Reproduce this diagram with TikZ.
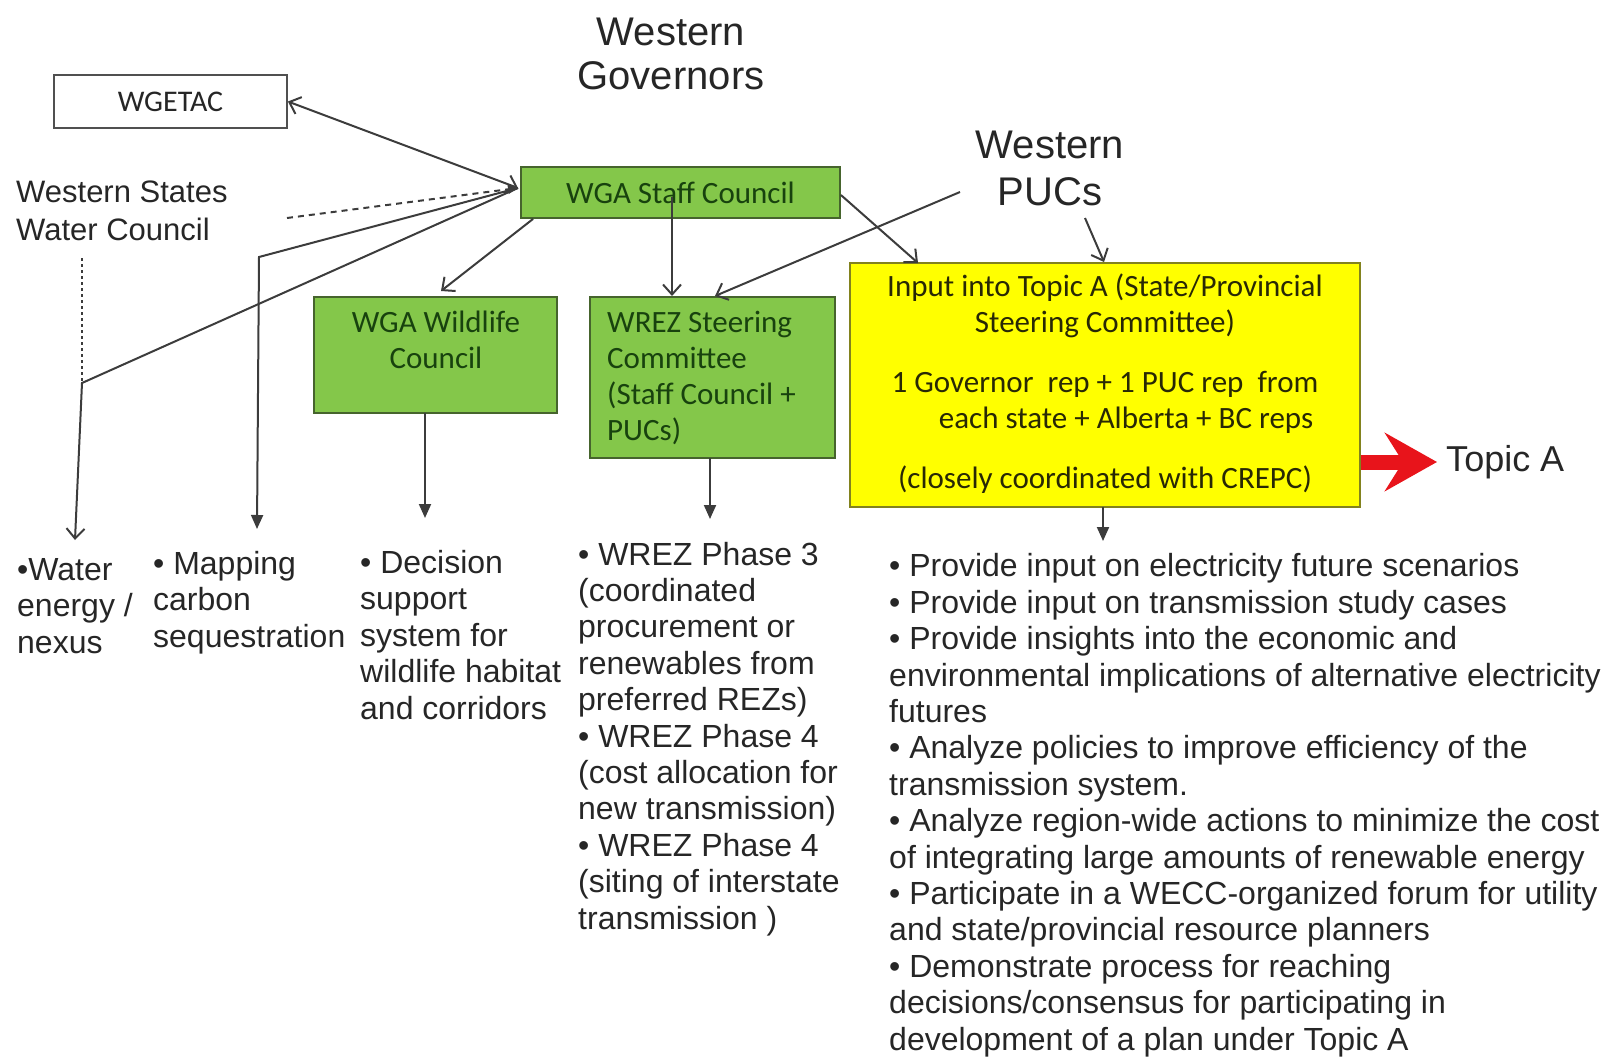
\documentclass[tikz,border=0pt]{standalone}
\usepackage{fontspec}
\setmainfont{Liberation Sans}
\newfontfamily\boxfont{Carlito}
\usetikzlibrary{arrows.meta}
\definecolor{gfill}{RGB}{132,199,74}
\definecolor{gdraw}{RGB}{70,100,45}
\definecolor{gtext}{RGB}{24,66,14}
\definecolor{ytext}{RGB}{40,40,5}
\definecolor{yfill}{RGB}{255,255,0}
\definecolor{ydraw}{RGB}{130,130,30}
\definecolor{linec}{RGB}{60,60,60}
\definecolor{topicred}{RGB}{232,20,27}
\begin{document}
\begin{tikzpicture}[x=1pt,y=-1pt,
  gbox/.style={draw=gdraw, fill=gfill, line width=1.8pt, inner sep=0pt},
  ybox/.style={draw=ydraw, fill=yfill, line width=2.2pt, inner sep=0pt},
  wbox/.style={draw=linec!90, fill=white, line width=1.8pt, inner sep=0pt, text=black!85,
    font=\boxfont\fontsize{30}{36}\selectfont},
  gtxt/.style={text=gtext, inner sep=0pt, font=\boxfont\fontsize{31}{35.7}\selectfont},
  ytxt/.style={text=ytext, inner sep=0pt, align=center, font=\boxfont\fontsize{31}{36.5}\selectfont},
  big/.style={inner sep=0pt, align=center, text=black!85},
  lst/.style={inner sep=0pt, align=left, anchor=base west, text=black!85,
    font=\fontsize{32}{36.4}\selectfont},
  con/.style={draw=linec, line width=2pt},
  oarr/.style={-{Straight Barb[length=10pt,width=18pt]}},
  farr/.style={-{Triangle[length=14pt,width=12pt]}},
]
\useasboundingbox (0,0) rectangle (1617,1057);
% (multi-line nodes: anchor=base is the baseline of the LAST line)

% ---------- headings ----------
\node[big, anchor=base, font=\fontsize{40}{44}\selectfont] (wgov) at (671,89) {Western\\Governors};
\node[big, anchor=base, font=\fontsize{40}{47}\selectfont] (wpuc) at (1050,205) {Western\\PUCs};
\node[big, align=left, anchor=base west, font=\fontsize{31}{38}\selectfont] (wswc) at (16,240) {Western States\\Water Council};

% ---------- boxes ----------
\node[wbox, minimum width=233pt, minimum height=53pt] (wgetac) at (170.5,101.5) {WGETAC};
\node[gbox, gtxt, minimum width=319pt, minimum height=51pt] (wga) at (680.5,192.5) {WGA Staff Council};
\node[gbox, minimum width=243pt, minimum height=116pt] (wild) at (435.5,355) {};
\node[gtxt, align=center, anchor=base] (wildt) at (436,368) {WGA Wildlife\\Council};
\node[gbox, minimum width=245pt, minimum height=161pt] (wrez) at (712.5,377.5) {};
\node[gtxt, align=left, anchor=base west] (wrezt) at (607,440) {WREZ Steering\\Committee\\(Staff Council +\\PUCs)};
\node[ybox, minimum width=510pt, minimum height=244pt] (inp) at (1105,385) {};
\node[ytxt, anchor=base] (inpt) at (1105,488) {Input into Topic A (State/Provincial\\Steering Committee)\\[23pt]1 Governor\ \ rep + 1 PUC rep\ \ from\\\hspace*{42pt}each state + Alberta + BC reps\\[23pt](closely coordinated with CREPC)};
\node[big, anchor=base west, font=\fontsize{36}{40}\selectfont] (topa) at (1446,471) {Topic A};

% ---------- lists ----------
\node[lst] (water) at (17,653) {\textbullet Water\\energy /\\nexus};
\node[lst] (mapping) at (153,647) {\textbullet\ Mapping\\carbon\\sequestration};
\node[lst] (decision) at (360,719) {\textbullet\ Decision\\support\\system for\\wildlife habitat\\and corridors};
\node[lst] (wrezl) at (578,929) {\textbullet\ WREZ Phase 3\\(coordinated\\procurement or\\renewables from\\preferred REZs)\\\textbullet\ WREZ Phase 4\\(cost allocation for\\new transmission)\\\textbullet\ WREZ Phase 4\\(siting of interstate\\transmission )};
\node[lst] (acts) at (889,1050) {\textbullet\ Provide input on electricity future scenarios\\\textbullet\ Provide input on transmission study cases\\\textbullet\ Provide insights into the economic and\\environmental implications of alternative electricity\\futures\\\textbullet\ Analyze policies to improve efficiency of the\\transmission system.\\\textbullet\ Analyze region-wide actions to minimize the cost\\of integrating large amounts of renewable energy\\\textbullet\ Participate in a WECC-organized forum for utility\\and state/provincial resource planners\\\textbullet\ Demonstrate process for reaching\\decisions/consensus for participating in\\development of a plan under Topic A};

% ---------- coordinates ----------
\coordinate (hub) at (518,188);
\coordinate (wswcR) at (287,218);
\coordinate (mapC) at (259,257);
\coordinate (mapT) at (257,529);
\coordinate (wdTop) at (82,258);
\coordinate (wj) at (82,383);
\coordinate (waterT) at (75,540);
\coordinate (pucL) at (960,192);
\coordinate (pucB) at (1085,218);

% ---------- connectors ----------
\draw[con, {Straight Barb[length=10pt,width=18pt]}-{Straight Barb[length=10pt,width=18pt]}] (wgetac.east) -- (hub);
\draw[con, dash pattern=on 6pt off 5pt, -{Triangle[length=10pt,width=9pt]}] (wswcR) -- (hub);
\draw[con, farr] (hub) -- (mapC) -- (mapT);
\draw[con, dash pattern=on 3pt off 3pt] (wdTop) -- (wj);
\draw[con, oarr] (hub) -- (wj) -- (waterT);
\draw[con, oarr] ([xshift=13pt]wga.south west) -- (441,291);
\draw[con, oarr] (672,197) -- (672,296);
\draw[con, oarr] (pucL) -- (715,296);
\draw[con, oarr] (wga.east |- 0,195) -- (918,263);
\draw[con, oarr] (pucB) -- (1104,262);
\draw[con, farr] (425,413) -- (425,518);
\draw[con, farr] (710,458) -- (710,519);
\draw[con, farr] (1103,507) -- (1103,541);
\draw[draw=topicred, line width=15pt, -{Stealth[length=52pt,width=58pt,inset=18pt]}] (inp.east |- 0,462) -- (1437,462);
\end{tikzpicture}
\end{document}
